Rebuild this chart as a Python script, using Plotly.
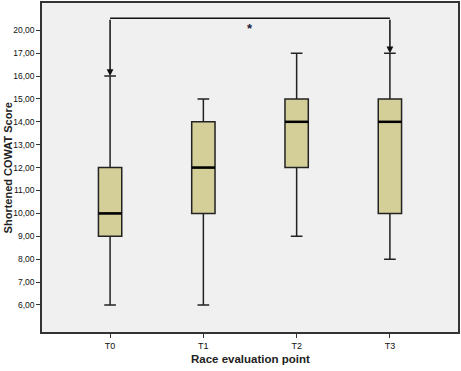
import plotly.graph_objects as go

categories = ["T0", "T1", "T2", "T3"]
lower = [6, 6, 9, 8]
q1 = [9, 10, 12, 10]
median = [10, 12, 14, 14]
q3 = [12, 14, 15, 15]
upper = [16, 15, 17, 17]

ytick_vals = [6, 7, 8, 9, 10, 11, 12, 13, 14, 15, 16, 17, 18]
ytick_text = ["6,00", "7,00", "8,00", "9,00", "10,00", "11,00", "12,00",
              "13,00", "14,00", "15,00", "16,00", "17,00", "20,00"]

bracket_y = 18.52
star_y = 18.08
sig_from, sig_to = 0, 3

xs = list(range(len(categories)))
box_w = 0.25

fig = go.Figure()
fig.add_trace(go.Box(
    x=xs, q1=q1, median=median, q3=q3, lowerfence=lower, upperfence=upper,
    width=box_w, whiskerwidth=0.5,
    fillcolor="#d4cf98", line=dict(color="#222222", width=1.5),
    boxpoints=False, showlegend=False, hoverinfo="skip",
))
for i, m in zip(xs, median):
    fig.add_trace(go.Scatter(
        x=[i - box_w / 2, i + box_w / 2], y=[m, m], mode="lines",
        line=dict(color="#000000", width=2.5), showlegend=False, hoverinfo="skip",
    ))

# significance bracket
fig.add_shape(type="line", x0=sig_from, x1=sig_to, y0=bracket_y, y1=bracket_y,
              xref="x", yref="y", line=dict(color="#111111", width=1.5))
for xi in (sig_from, sig_to):
    fig.add_annotation(x=xi, y=upper[xi], ax=xi, ay=bracket_y, xref="x", yref="y",
                       axref="x", ayref="y", showarrow=True, arrowhead=2,
                       arrowsize=0.9, arrowwidth=1.5, arrowcolor="#111111", text="",
                       standoff=0, startstandoff=0)
fig.add_annotation(x=(sig_from + sig_to) / 2, y=star_y, text="<b>*</b>", showarrow=False,
                   font=dict(family="Liberation Sans", size=13, color="#1a1a3a"))

# axis titles
fig.add_annotation(x=0.5, y=-0.058, xref="paper", yref="paper", yanchor="top",
                   text="<b>Race evaluation point</b>", showarrow=False,
                   font=dict(family="Liberation Sans", size=11.5, color="#222222"))
fig.add_annotation(x=-0.082, y=0.5, xref="paper", yref="paper", xanchor="center",
                   text="<b>Shortened COWAT Score</b>", showarrow=False, textangle=-90,
                   font=dict(family="Liberation Sans", size=11, color="#222222"))

fig.update_layout(
    width=461, height=371,
    margin=dict(l=42, r=3, t=3, b=39, autoexpand=False),
    paper_bgcolor="white", plot_bgcolor="#f0f0f0",
    font=dict(family="Liberation Sans", color="#222222"),
)
fig.update_xaxes(
    range=[-0.73, 3.73], tickvals=xs, ticktext=categories, automargin=False,
    showgrid=False, zeroline=False, showline=True, linecolor="#333333", linewidth=1.5,
    mirror=True, ticks="outside", ticklen=4, tickcolor="#333333",
    tickfont=dict(size=9, family="Liberation Sans", color="#111111"),
)
fig.update_yaxes(
    range=[4.82, 19.19], tickvals=ytick_vals, ticktext=ytick_text, automargin=False,
    showgrid=False, zeroline=False, showline=True, linecolor="#333333", linewidth=1.5,
    mirror=True, ticks="outside", ticklen=4, tickcolor="#333333",
    tickfont=dict(size=8.5, family="Liberation Sans", color="#111111"),
)

fig.write_html("out.html", config={"displayModeBar": False},
               post_script="document.body.style.margin='0';")
